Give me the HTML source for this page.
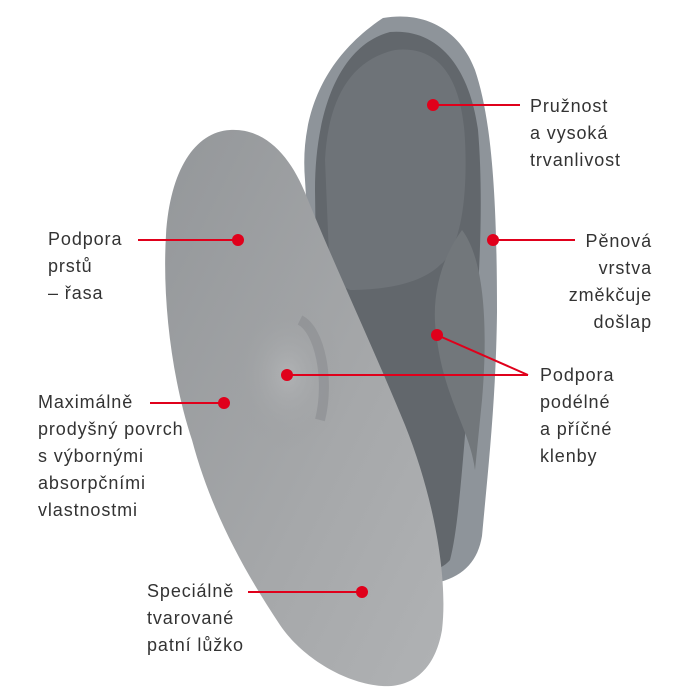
<!DOCTYPE html>
<html><head><meta charset="utf-8"><style>
body{margin:0;width:700px;height:700px;background:#fff;overflow:hidden;position:relative;font-family:"Liberation Sans",sans-serif;}
.t{position:absolute;font-size:18px;line-height:27px;color:#333;letter-spacing:0.9px}
</style></head><body>
<svg width="700" height="700" style="position:absolute;left:0;top:0">
<defs>
<linearGradient id="g1" x1="0" y1="0" x2="1" y2="1"><stop offset="0" stop-color="#94979a"/><stop offset="0.6" stop-color="#a6a8aa"/><stop offset="1" stop-color="#b0b2b4"/></linearGradient>
<radialGradient id="arch" cx="0.5" cy="0.5" r="0.5"><stop offset="0" stop-color="#b0b2b4"/><stop offset="1" stop-color="#9c9ea0" stop-opacity="0"/></radialGradient>
</defs>
<path d="M383,18 C430,10 462,35 475,70 C492,120 497,200 497,312 C496,400 488,470 482,536 C478,560 465,575 440,582 L330,600 L305,180 C300,120 320,60 383,18 Z" fill="#8e949a"/>
<path d="M390,32 C440,28 470,70 478,130 C484,200 480,300 468,400 C462,470 458,530 450,560 C440,572 420,575 400,570 L320,560 L315,190 C315,110 340,45 390,32 Z" fill="#62676c"/>
<path d="M395,50 C440,45 462,80 465,140 C468,200 460,250 440,265 C420,285 380,290 350,290 L330,280 L325,160 C328,100 350,60 395,50 Z" fill="#6e7378"/>
<path d="M462,230 C440,260 430,300 437,340 C445,400 470,430 475,470 L482,400 C488,330 485,260 462,230 Z" fill="#72777b"/>
<path d="M230,130 C268,128 292,160 306,195 C330,255 372,345 405,425 C435,500 448,580 442,630 C435,670 412,688 382,686 C342,683 300,655 280,625 C242,568 210,508 192,440 C172,380 162,300 166,235 C170,170 195,132 230,130 Z" fill="url(#g1)"/>
<ellipse cx="288" cy="375" rx="55" ry="75" fill="url(#arch)"/>
<path d="M300,320 C320,330 330,380 320,420" stroke="#85888b" stroke-width="10" fill="none" opacity="0.5"/>
<g stroke="#e0001b" stroke-width="2" fill="none">
<line x1="433" y1="105" x2="520" y2="105"/>
<line x1="138" y1="240" x2="238" y2="240"/>
<line x1="493" y1="240" x2="575" y2="240"/>
<line x1="437" y1="335" x2="528" y2="375"/>
<line x1="287" y1="375" x2="528" y2="375"/>
<line x1="150" y1="403" x2="224" y2="403"/>
<line x1="248" y1="592" x2="362" y2="592"/>
</g>
<g fill="#e0001b">
<circle cx="433" cy="105" r="6"/><circle cx="238" cy="240" r="6"/><circle cx="493" cy="240" r="6"/>
<circle cx="437" cy="335" r="6"/><circle cx="287" cy="375" r="6"/><circle cx="224" cy="403" r="6"/><circle cx="362" cy="592" r="6"/>
</g>
</svg>
<div class="t" style="left:530px;top:93px">Pružnost<br>a vysoká<br>trvanlivost</div>
<div class="t" style="left:48px;top:226px">Podpora<br>prstů<br>– řasa</div>
<div class="t" style="right:48px;top:228px;text-align:right">Pěnová<br>vrstva<br>změkčuje<br>došlap</div>
<div class="t" style="left:540px;top:362px">Podpora<br>podélné<br>a příčné<br>klenby</div>
<div class="t" style="left:38px;top:389px">Maximálně<br>prodyšný povrch<br>s výbornými<br>absorpčními<br>vlastnostmi</div>
<div class="t" style="left:147px;top:578px">Speciálně<br>tvarované<br>patní lůžko</div>
</body></html>
